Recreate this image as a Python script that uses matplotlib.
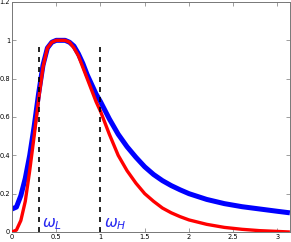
import numpy as np
import matplotlib.pyplot as plt
from matplotlib.ticker import FormatStrFormatter

# frequency grid (rad/sample) and magnitude responses
w = [0, 0.05, 0.1, 0.15, 0.2, 0.25, 0.3, 0.35, 0.4, 0.45, 0.5, 0.55, 0.6,
     0.65, 0.7, 0.75, 0.8, 0.85, 0.9, 0.95, 1.0, 1.1, 1.2, 1.3, 1.4, 1.5,
     1.6, 1.7, 1.8, 1.9, 2.0, 2.2, 2.4, 2.6, 2.8, 3.0, 3.14]
mag_blue = [0.12, 0.13, 0.19, 0.28, 0.40, 0.55, 0.72, 0.87, 0.96, 0.99, 1.0,
            1.0, 1.0, 0.99, 0.97, 0.93, 0.88, 0.82, 0.77, 0.72, 0.68, 0.59,
            0.51, 0.445, 0.39, 0.34, 0.30, 0.268, 0.242, 0.22, 0.20, 0.17,
            0.148, 0.132, 0.12, 0.108, 0.10]
mag_red = [0.0, 0.01, 0.06, 0.16, 0.32, 0.50, 0.69, 0.86, 0.96, 0.99, 1.0,
           1.0, 1.0, 0.99, 0.96, 0.92, 0.86, 0.80, 0.74, 0.68, 0.63, 0.51,
           0.40, 0.32, 0.255, 0.20, 0.16, 0.125, 0.10, 0.08, 0.063, 0.04,
           0.024, 0.014, 0.007, 0.003, 0.0]

cutoffs = [0.3, 1.0]
cutoff_labels = [r"$\omega_L$", r"$\omega_H$"]
xticks = [0, 0.5, 1, 1.5, 2, 2.5, 3]
yticks = [0, 0.2, 0.4, 0.6, 0.8, 1.0, 1.2]

fig = plt.figure(figsize=(2.91, 2.42), dpi=100)
ax = fig.add_axes([12 / 291, 10 / 242, 278 / 291, 230 / 242])

ax.plot(w, mag_blue, color="blue", lw=3.6, solid_capstyle="butt", zorder=2)
ax.plot(w, mag_red, color="red", lw=2.4, solid_capstyle="butt", zorder=3)

for c, lab in zip(cutoffs, cutoff_labels):
    ax.plot([c, c], [0, 0.98], "k--", lw=1.2, dashes=(3, 3), zorder=4)
    ax.text(c + 0.035, 0.025, lab, color="#2828f0", fontsize=11)

ax.set_xlim(0, np.pi)
ax.set_ylim(0, 1.2)
ax.set_xticks(xticks)
ax.set_yticks(yticks)
ax.xaxis.set_major_formatter(FormatStrFormatter("%g"))
ax.yaxis.set_major_formatter(FormatStrFormatter("%g"))
ax.tick_params(direction="in", length=3, width=0.5, labelsize=4.8,
               top=True, right=True, pad=1.5, color="#777777")
for s in ax.spines.values():
    s.set_linewidth(0.7)
    s.set_color("#777777")

fig.savefig("out.png", dpi=100)
